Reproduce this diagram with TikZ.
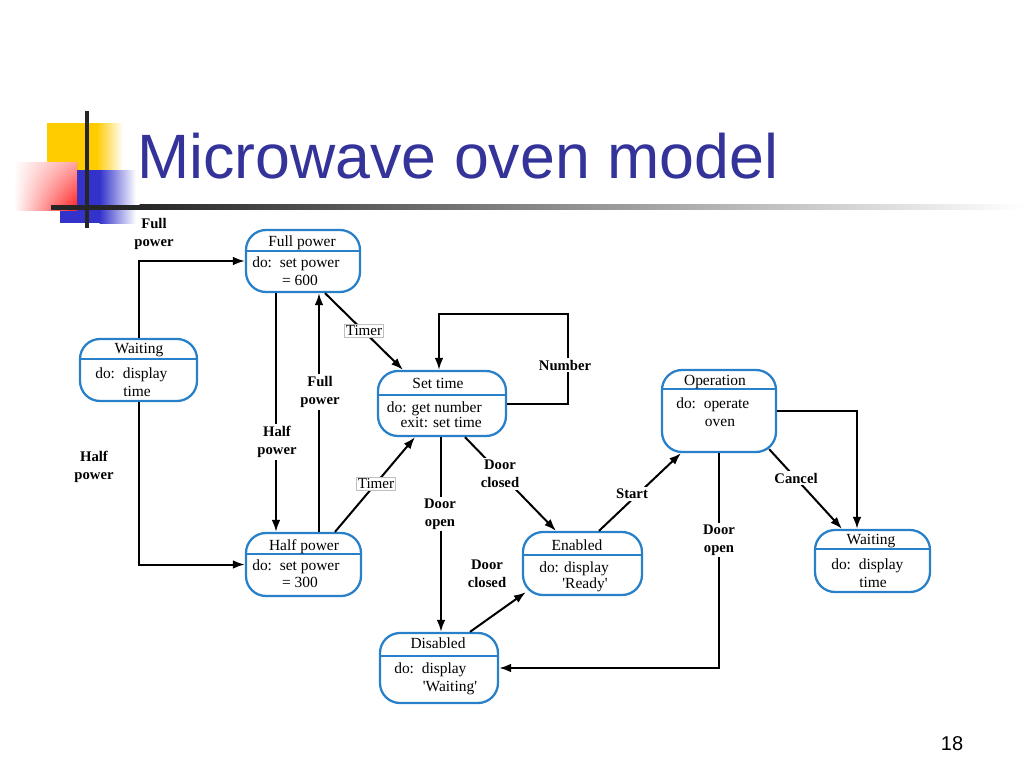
\documentclass[tikz,border=0pt]{standalone}
\usepackage{fontspec}
\setmainfont{Liberation Serif}
\newfontfamily\titlefont{Liberation Sans}
\usetikzlibrary{arrows.meta,fit,fadings}
\definecolor{boxblue}{RGB}{40,128,200}
\definecolor{titleblue}{RGB}{51,51,153}
\definecolor{decoyellow}{RGB}{255,204,0}
\definecolor{decoblue}{RGB}{51,51,204}
\definecolor{decored}{RGB}{255,30,30}
\tikzset{
 statebox/.style={draw=boxblue, line width=1.7pt, rounded corners=15pt, inner sep=0pt, fill=white},
 hdr/.style={draw=boxblue, line width=1.7pt},
 boxtxt/.style={font=\fontsize{11.6}{13}\selectfont, inner sep=0pt, anchor=base},
 arr/.style={line width=1.5pt, -{Latex[length=9pt,width=6.5pt]}},
 lbl/.style={font=\fontsize{11}{13.5}\selectfont\bfseries, align=center, inner sep=1.5pt},
 onlbl/.style={lbl, fill=white},
 timer/.style={draw=gray!50, line width=0.4pt, fill=white, font=\fontsize{11.3}{13}\selectfont, inner sep=1pt},
}
\newcommand\mkstate[6]{%
  \node[statebox, fit={(#2,#3) (#4,#5)}] (#1) {};
  \draw[hdr] (#2,#6) -- (#4,#6);}
\begin{document}
\begin{tikzpicture}[x=0.75pt,y=-0.75pt]
\useasboundingbox (0,0) rectangle (1024,768);
\fill[white] (0,0) rectangle (1024,768);
% decoration
\fill[decoyellow] (47,123) rectangle (97,172);
\shade[left color=decoyellow, right color=white] (96.5,123) rectangle (123,172);
\fill[decoblue] (60,170) rectangle (100,223);
\shade[left color=decoblue, right color=white] (99.5,170) rectangle (136,223);
\shade[left color=white, right color=decored] (14,162) rectangle (77,210);
\fill[white, fill opacity=0.6, path fading=south] (14,162) rectangle (77,210);
\draw[line width=3pt, black!85] (87,111) -- (87,228);
\fill[black!85] (51,204.5) rectangle (140,209.5);
\shade[left color=black!85, middle color=black!25, right color=white] (139.5,204.5) rectangle (1024,209.5);
% title
\node[anchor=base west, inner sep=0pt, text=titleblue, font=\titlefont\fontsize{47}{50}\selectfont] (title) at (137,178) {Microwave oven model};
\node[anchor=base, inner sep=0pt, font=\titlefont\fontsize{15}{17}\selectfont] (pagenum) at (952,750) {18};
% states
\mkstate{fp}{246}{230}{360}{292}{251}
\mkstate{wl}{80}{339}{197}{401}{359}
\mkstate{hp}{246}{533}{361}{596}{554}
\mkstate{st}{378}{371}{506}{436}{395}
\mkstate{en}{523}{532}{642}{595}{555}
\mkstate{op}{662}{370}{776}{452}{389}
\mkstate{wr}{815}{530}{930}{592}{549}
\mkstate{di}{380}{633}{498}{703}{656}
% state texts
\node[boxtxt] (fph) at (302,246) {Full power};
\node[boxtxt, anchor=base west] (fpa) at (252,267) {do:\ \ set power};
\node[boxtxt] (fpb) at (300,285) {= 600};
\node[boxtxt] (wlh) at (139,353) {Waiting};
\node[boxtxt, anchor=base west] (wla) at (95,378) {do:\ \ display};
\node[boxtxt] (wlb) at (137,396) {time};
\node[boxtxt] (hph) at (304,550) {Half power};
\node[boxtxt, anchor=base west] (hpa) at (252,570) {do:\ \ set power};
\node[boxtxt] (hpb) at (300,587) {= 300};
\node[boxtxt] (sth) at (438,388) {Set time};
\node[boxtxt, anchor=base east] (sta) at (482,412) {do: get number};
\node[boxtxt, anchor=base east] (stb) at (482,427) {exit: set time};
\node[boxtxt] (enh) at (577,550) {Enabled};
\node[boxtxt, anchor=base west] (ena) at (539,572) {do: display};
\node[boxtxt] (enb) at (585,588) {\textquotesingle Ready\textquotesingle};
\node[boxtxt] (oph) at (715,385) {Operation};
\node[boxtxt, anchor=base west] (opa) at (676,408) {do:\ \ operate};
\node[boxtxt] (opb) at (720,426) {oven};
\node[boxtxt] (wrh) at (871,544) {Waiting};
\node[boxtxt, anchor=base west] (wra) at (831,569) {do:\ \ display};
\node[boxtxt] (wrb) at (873,587) {time};
\node[boxtxt] (dih) at (438,648) {Disabled};
\node[boxtxt, anchor=base west] (dia) at (394,673) {do:\ \ display};
\node[boxtxt] (dib) at (450,691) {\textquotesingle Waiting\textquotesingle};
% helper coordinates
\coordinate (opc) at ([xshift=-6pt,yshift=3pt]op.south east);
\coordinate (enc) at ([xshift=3pt,yshift=3pt]en.south west);
% connectors
\draw[arr] (wl.north) |- (fp.west);
\draw[arr] (wl.south) |- (hp.west);
\draw[arr] (fp.south -| 276,0) -- (hp.north -| 276,0);
\draw[arr] (hp.north -| 319,0) -- (fp.south -| 319,0);
\draw[arr] (fp.south -| 325,0) -- (st.north -| 403,0);
\draw[arr] (hp.north -| 335,0) -- (st.south -| 415,0);
\draw[arr] (st.east) -| (568,314) -| (st.north -| 439,0);
\draw[arr] (st.south -| 441,0) -- (di.north -| 441,0);
\draw[arr] (st.south -| 465,0) -- (en.north -| 556,0);
\draw[arr] (en.north -| 599,0) -- (op.south -| 681,0);
\draw[arr] (op.east) -| (wr.north -| 857,0);
\draw[arr] (opc) -- (wr.north -| 842,0);
\draw[arr] (di.north -| 470,0) -- (enc);
\draw[arr] (op.south -| 719,0) |- (di.east);
% labels
\node[lbl] (l1) at (154,234) {Full\\power};
\node[lbl] (l2) at (94,467) {Half\\power};
\node[onlbl] (l3) at (277,442) {Half\\power};
\node[onlbl] (l4) at (320,392) {Full\\power};
\node[onlbl] (l5) at (565,365) {Number};
\node[onlbl] (l6) at (440,514) {Door\\open};
\node[onlbl] (l7) at (500,474) {Door\\closed};
\node[onlbl] (l8) at (632,494) {Start};
\node[onlbl] (l9) at (796,478) {Cancel};
\node[onlbl] (l10) at (719,540) {Door\\open};
\node[lbl] (l11) at (487,574) {Door\\closed};
\node[timer] (t1) at (364,331) {Timer};
\node[timer] (t2) at (376,484) {Timer};
\end{tikzpicture}
\end{document}
